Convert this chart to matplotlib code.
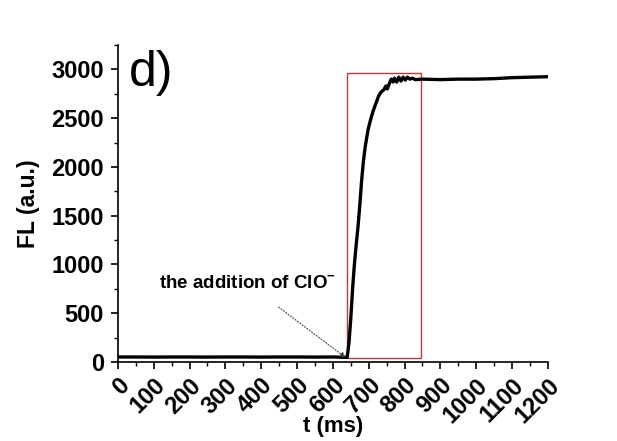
import matplotlib
matplotlib.use('Agg')
import matplotlib.pyplot as plt
from matplotlib.patches import Rectangle
from matplotlib.ticker import MultipleLocator

# dados
t_ms = [0, 50, 100, 150, 200, 250, 300, 350, 400, 450, 500, 550, 600, 640,
        645, 650, 655, 660, 665, 670, 675, 680, 685, 690, 698, 705, 712, 720,
        728, 735, 742, 748, 752, 758, 763, 768, 772, 778, 784, 790, 796, 802,
        808, 815, 822, 830, 850, 900, 950, 1000, 1050, 1100, 1150, 1200]
fl = [52, 52, 51, 52, 52, 51, 52, 52, 51, 52, 52, 51, 52, 48,
      200, 450, 750, 1000, 1200, 1380, 1600, 1850, 2050, 2200, 2380, 2480, 2570, 2650,
      2730, 2770, 2790, 2830, 2800, 2860, 2900, 2870, 2910, 2870, 2920, 2880, 2920, 2890,
      2920, 2900, 2910, 2895, 2900, 2895, 2900, 2900, 2905, 2915, 2920, 2925]

caixa_t = [640, 845]
caixa_fl = [40, 2960]

plt.rcParams['font.family'] = ['Liberation Sans', 'DejaVu Sans']
plt.rcParams['mathtext.fontset'] = 'custom'
plt.rcParams['mathtext.bf'] = 'Liberation Sans:bold'
plt.rcParams['mathtext.rm'] = 'Liberation Sans'

fig = plt.figure(figsize=(6.17, 4.41), dpi=100)
ax = fig.add_axes([0.191, 0.179, 0.697, 0.719])

ax.plot(t_ms, fl, color='black', lw=2.4)

ax.add_patch(Rectangle((caixa_t[0], caixa_fl[0]), caixa_t[1] - caixa_t[0],
                       caixa_fl[1] - caixa_fl[0], fill=False,
                       edgecolor='#c8383a', lw=1.0))

ax.annotate(r'the addition of ClO$^{\mathbf{-}}$', xy=(636, 45), xytext=(363, 800),
            ha='center', va='center', fontsize=13.5, fontweight='bold',
            arrowprops=dict(arrowstyle='-|>', linestyle=':', lw=0.8,
                            color='0.25', mutation_scale=8,
                            shrinkA=14, shrinkB=0))

ax.text(0.025, 0.985, 'd)', transform=ax.transAxes, fontsize=36,
        ha='left', va='top')

ax.set_xlim(0, 1200)
ax.set_ylim(0, 3250)
ax.xaxis.set_major_locator(MultipleLocator(100))
ax.xaxis.set_minor_locator(MultipleLocator(50))
ax.yaxis.set_major_locator(MultipleLocator(500))
ax.yaxis.set_minor_locator(MultipleLocator(250))

for s in ['top', 'right']:
    ax.spines[s].set_visible(False)
for s in ['left', 'bottom']:
    ax.spines[s].set_linewidth(1.2)

ax.tick_params(which='major', direction='out', length=5, width=1.2, labelsize=17)
ax.tick_params(which='minor', direction='out', length=3, width=1.0)
ax.tick_params(axis='y', pad=5)
for lbl in ax.get_xticklabels():
    lbl.set_rotation(45)
    lbl.set_ha('right')
    lbl.set_va('top')
    lbl.set_rotation_mode('anchor')
    lbl.set_fontweight('bold')
for lbl in ax.get_yticklabels():
    lbl.set_fontweight('bold')

ax.set_xlabel('t (ms)', fontsize=16, fontweight='bold')
ax.xaxis.set_label_coords(0.5, -0.17)
ax.set_ylabel('FL (a.u.)', fontsize=16.5, fontweight='bold', labelpad=8)

fig.savefig('out.png', dpi=100)
